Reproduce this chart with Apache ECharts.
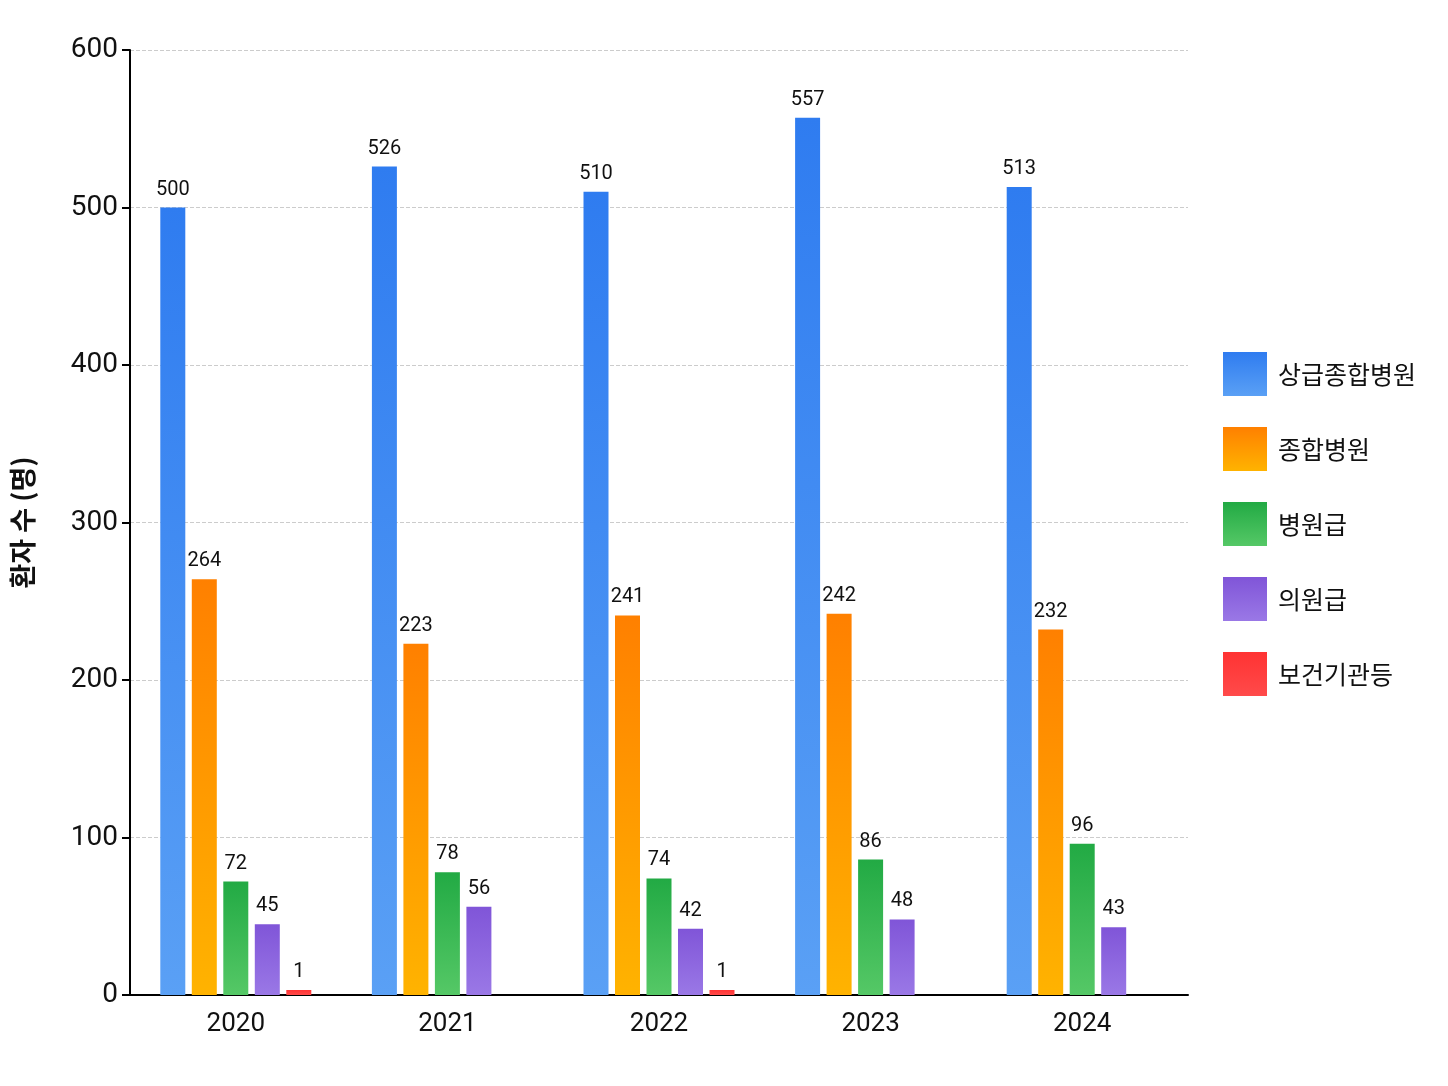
<!DOCTYPE html>
<html>
<head>
<meta charset="utf-8">
<script src="https://cdn.jsdelivr.net/npm/echarts@6/dist/echarts.min.js"></script>
<style>html,body{margin:0;background:#fff}#c{width:1448px;height:1086px}</style>
</head>
<body>
<div id="c"></div>
<script>
var years = ['2020', '2021', '2022', '2023', '2024'];
var names = ['상급종합병원', '종합병원', '병원급', '의원급', '보건기관등'];
var tertiary = [500, 526, 510, 557, 513];
var general = [264, 223, 241, 242, 232];
var hospital = [72, 78, 74, 86, 96];
var clinic = [45, 56, 42, 48, 43];
var publicHealth = [1, null, 1, null, null];

var values = [tertiary, general, hospital, clinic, publicHealth];
var colors = [['#2f7cf0', '#5aa0f5'], ['#ff8000', '#ffb300'], ['#22aa44', '#55c866'], ['#8055d8', '#9a78e6'], ['#ff3333', '#ff4a4a']];

var series = names.map(function (n, i) {
    return {
        name: n,
        type: 'bar',
        data: values[i],
        barWidth: 25,
        barGap: '26%',
        barMinHeight: i === 4 ? 5 : 0,
        itemStyle: {
            color: new echarts.graphic.LinearGradient(0, 0, 0, 1, [
                {offset: 0, color: colors[i][0]}, {offset: 1, color: colors[i][1]}
            ])
        },
        label: {show: true, position: 'top', color: '#111', fontSize: 20, fontFamily: 'Roboto', distance: 8}
    };
});

var chart = echarts.init(document.getElementById('c'));
chart.setOption({
    color: colors.map(function (c) { return c[0]; }),
    legend: {
        orient: 'vertical', left: 1218, top: 347, itemWidth: 44, itemHeight: 44, itemGap: 31,
        icon: 'rect', textStyle: {fontSize: 25, color: '#111', fontFamily: 'Noto Sans CJK KR', padding: [0, 0, 0, 6]}
    },
    grid: {left: 130, right: 260, top: 50, bottom: 91},
    xAxis: {
        type: 'category', data: years,
        axisLine: {lineStyle: {color: '#000', width: 2}},
        axisTick: {show: false},
        axisLabel: {fontSize: 26, color: '#111', fontFamily: 'Roboto', margin: 16}
    },
    yAxis: {
        type: 'value', min: 0, max: 600, interval: 100,
        name: '환자 수 (명)', nameLocation: 'middle', nameGap: 94, nameRotate: 90,
        nameTextStyle: {fontSize: 27, color: '#111', fontWeight: 'bold', fontFamily: 'Noto Sans CJK KR'},
        axisLine: {show: true, lineStyle: {color: '#000', width: 2}},
        axisTick: {show: true, length: 8, lineStyle: {color: '#000', width: 2}},
        axisLabel: {fontSize: 28, color: '#111', fontFamily: 'Roboto', margin: 12},
        splitLine: {lineStyle: {color: '#ccc', type: 'dashed'}}
    },
    series: series
});
</script>
</body>
</html>
